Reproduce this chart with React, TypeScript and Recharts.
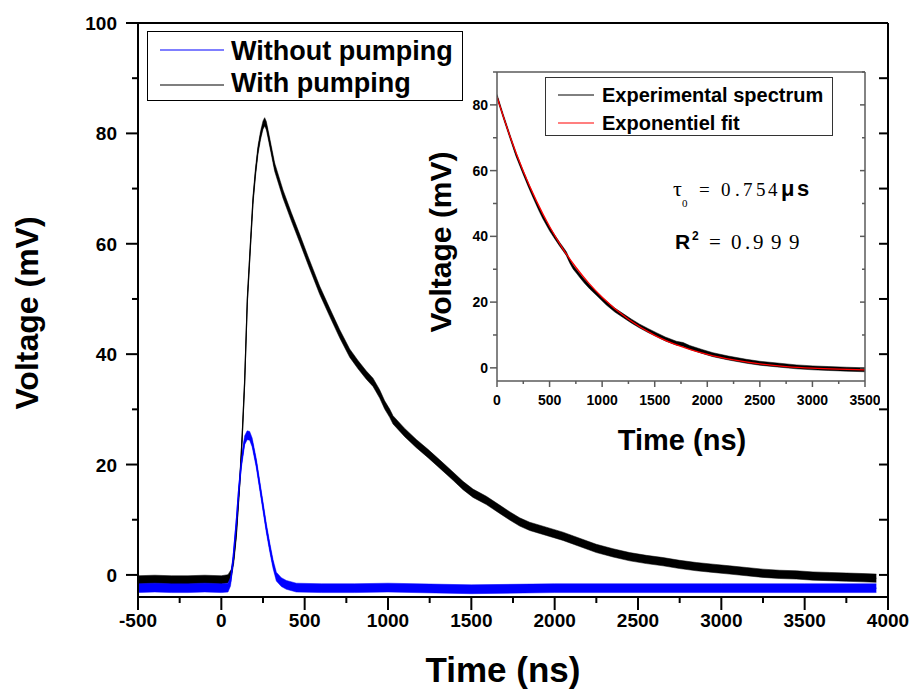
import React from 'react';
import { ComposedChart, Line, Area, XAxis, YAxis, Legend } from 'recharts';

// ---------------- data ----------------
// Main chart, "With pumping" (black)
const withTimes = [-500, -400, -300, -200, -100, 0, 40, 60, 75, 90, 110, 125, 140, 156, 175, 190, 205, 220, 235, 250, 260, 270, 285, 320, 370, 420, 470, 520, 590, 650, 710, 770, 820, 870, 910, 950, 980, 1010, 1030, 1100, 1170, 1240, 1310, 1390, 1450, 1510, 1590, 1670, 1730, 1790, 1850, 1950, 2050, 2150, 2250, 2350, 2450, 2550, 2650, 2750, 2850, 2950, 3050, 3150, 3250, 3350, 3450, 3550, 3650, 3750, 3850, 3930];
const withPumping = [-0.9, -0.8, -0.9, -0.9, -0.8, -0.9, -0.7, 0.3, 3, 7.5, 16.5, 25, 35, 49.8, 60, 67.9, 73, 77, 79.6, 81.5, 82.1, 81.4, 79.2, 73.9, 69, 64.9, 61, 57, 51.6, 47.6, 43.7, 40.2, 38.1, 36.2, 34.9, 32.8, 30.8, 29.3, 28.1, 25.8, 23.8, 22, 20.1, 17.9, 16.2, 14.8, 13.5, 11.9, 10.7, 9.6, 8.8, 7.9, 7.0, 5.9, 4.8, 4.0, 3.3, 2.8, 2.4, 1.9, 1.5, 1.2, 0.9, 0.6, 0.3, 0.1, 0, -0.2, -0.3, -0.4, -0.5, -0.6];
const withPumpingNoise = 0.75;

// Main chart, "Without pumping" (blue)
const withoutTimes = [-500, -400, -300, -200, -100, 0, 40, 55, 70, 90, 105, 120, 140, 155, 170, 185, 210, 230, 250, 270, 290, 310, 330, 360, 390, 450, 600, 800, 1000, 1500, 2000, 2500, 3000, 3500, 3930];
const withoutPumping = [-2.4, -2.3, -2.4, -2.4, -2.3, -2.4, -2.3, -1.2, 2.5, 9.4, 15.5, 20.2, 24.4, 25.3, 25.2, 24.0, 20.2, 16.3, 12.4, 8.5, 5.1, 2.0, -0.3, -1.3, -1.8, -2.3, -2.4, -2.4, -2.3, -2.6, -2.4, -2.4, -2.4, -2.4, -2.4];
const withoutPumpingNoise = 0.8;

// Inset, experimental spectrum (black)
const expTimes = [0, 60, 121, 180, 247, 300, 342, 400, 437, 501, 550, 596, 630, 660, 690, 723, 760, 787, 830, 882, 950, 1040, 1120, 1199, 1280, 1357, 1440, 1516, 1600, 1706, 1770, 1833, 1950, 2054, 2200, 2372, 2500, 2689, 2850, 3005, 3150, 3323, 3500];
const experimental = [82.6, 76.5, 70.6, 65, 59.6, 55.5, 52.4, 48.3, 45.9, 42.2, 39.8, 37.6, 36.1, 34.7, 32.6, 30.7, 29.2, 28.1, 26.4, 24.6, 22.5, 19.7, 17.6, 15.9, 14.2, 12.7, 11.3, 10.1, 8.8, 7.5, 7.1, 6.2, 5.0, 4.0, 3.0, 2.0, 1.4, 0.8, 0.3, 0, -0.2, -0.4, -0.6];
const experimentalNoise = 0.6;

// Inset, exponential fit (red)
const fitTimes = [0, 125, 250, 375, 500, 625, 750, 875, 1000, 1250, 1500, 1750, 2000, 2250, 2500, 2750, 3000, 3250, 3500];
const exponentialFit = [82.4, 70.3, 59.8, 50.8, 43.0, 36.3, 30.6, 25.7, 21.5, 14.8, 9.9, 6.5, 4.1, 2.4, 1.2, 0.4, -0.1, -0.4, -0.6];

// ticks
const mainXTicks = [-500, -250, 0, 250, 500, 750, 1000, 1250, 1500, 1750, 2000, 2250, 2500, 2750, 3000, 3250, 3500, 3750, 4000];
const mainYTicks = [0, 10, 20, 30, 40, 50, 60, 70, 80, 90, 100];
const insetXTicks = [0, 250, 500, 750, 1000, 1250, 1500, 1750, 2000, 2250, 2500, 2750, 3000, 3250, 3500];
const insetYTicks = [0, 10, 20, 30, 40, 50, 60, 70, 80, 90];

const mainXDomain = [-500, 4000];
const mainYDomain = [-4, 100];
const insetXDomain = [0, 3500];
const insetYDomain = [-4, 90];

// ---------------- derived tables ----------------
const withData = withTimes.map((t, i) => ({ t, v: withPumping[i], band: [withPumping[i] - withPumpingNoise, withPumping[i] + withPumpingNoise] }));
const withoutData = withoutTimes.map((t, i) => ({ t, v: withoutPumping[i], band: [withoutPumping[i] - withoutPumpingNoise, withoutPumping[i] + withoutPumpingNoise] }));
const expData = expTimes.map((t, i) => ({ t, v: experimental[i], band: [experimental[i] - experimentalNoise, experimental[i] + experimentalNoise] }));
const fitData = fitTimes.map((t, i) => ({ t, v: exponentialFit[i] }));

const SANS = 'Liberation Sans, Arial, Helvetica, sans-serif';
const SERIF = 'Liberation Serif, Times New Roman, serif';

type TickOpts = {
  side: 'bottom' | 'left' | 'top' | 'right';
  majorStep: number;
  majorLen: number;
  minorLen: number;
  label: boolean;
  labelOffset: number;
  baseShift: number;
  fontSize: number;
  stroke: string;
  strokeWidth: number;
};

const makeTick = (o: TickOpts) => (props: any) => {
  const { x, y, payload } = props;
  const v = payload.value;
  const major = Math.abs(v % o.majorStep) < 1e-9;
  const len = major ? o.majorLen : o.minorLen;
  let x2 = x, y2 = y;
  let tx = x, ty = y;
  let anchor: 'middle' | 'end' = 'middle';
  if (o.side === 'bottom') { y2 = y + len; ty = y + o.labelOffset; }
  if (o.side === 'top') { y2 = y + len; }
  if (o.side === 'left') { x2 = x - len; tx = x - o.labelOffset; ty = y + o.baseShift; anchor = 'end'; }
  if (o.side === 'right') { x2 = x - len; }
  return (
    <g>
      <line x1={x} y1={y} x2={x2} y2={y2} stroke={o.stroke} strokeWidth={o.strokeWidth} />
      {o.label && major ? (
        <text x={tx} y={ty} textAnchor={anchor} fontFamily={SANS} fontWeight="bold" fontSize={o.fontSize} fill="#000">
          {String(v)}
        </text>
      ) : null}
    </g>
  );
};

const mainBottomTick = makeTick({ side: 'bottom', majorStep: 500, majorLen: 13, minorLen: 6, label: true, labelOffset: 30, baseShift: 0, fontSize: 19, stroke: '#000', strokeWidth: 2 });
const mainLeftTick = makeTick({ side: 'left', majorStep: 20, majorLen: 12, minorLen: 6, label: true, labelOffset: 21, baseShift: 7, fontSize: 19, stroke: '#000', strokeWidth: 2 });
const mainTopTick = makeTick({ side: 'top', majorStep: 500, majorLen: 10, minorLen: 6, label: false, labelOffset: 0, baseShift: 0, fontSize: 19, stroke: '#000', strokeWidth: 2 });
const mainRightTick = makeTick({ side: 'right', majorStep: 20, majorLen: 9, minorLen: 9, label: false, labelOffset: 0, baseShift: 0, fontSize: 19, stroke: '#000', strokeWidth: 2 });

const INSET_AXIS = '#5a5a5a';
const insetBottomTick = makeTick({ side: 'bottom', majorStep: 500, majorLen: 6, minorLen: 3, label: true, labelOffset: 24, baseShift: 0, fontSize: 14, stroke: INSET_AXIS, strokeWidth: 1.5 });
const insetLeftTick = makeTick({ side: 'left', majorStep: 20, majorLen: 7, minorLen: 4, label: true, labelOffset: 9, baseShift: 5, fontSize: 14, stroke: INSET_AXIS, strokeWidth: 1.5 });
const insetTopTick = makeTick({ side: 'top', majorStep: 500, majorLen: 5, minorLen: 3, label: false, labelOffset: 0, baseShift: 0, fontSize: 14, stroke: INSET_AXIS, strokeWidth: 1.5 });
const insetRightTick = makeTick({ side: 'right', majorStep: 20, majorLen: 5, minorLen: 3, label: false, labelOffset: 0, baseShift: 0, fontSize: 14, stroke: INSET_AXIS, strokeWidth: 1.5 });

const MainLegend = () => (
  <div style={{ width: 316, height: 70, border: '1px solid #000', boxSizing: 'border-box' }}>
    <svg width={314} height={68} style={{ display: 'block' }}>
      <line x1={12} x2={76} y1={18} y2={18} stroke="#0000ff" strokeWidth={1.2} />
      <text x={83} y={28} fontFamily={SANS} fontWeight="bold" fontSize={27} fill="#000">Without pumping</text>
      <line x1={12} x2={76} y1={53} y2={53} stroke="#000" strokeWidth={1.2} />
      <text x={83} y={60} fontFamily={SANS} fontWeight="bold" fontSize={27} fill="#000">With pumping</text>
    </svg>
  </div>
);

const InsetLegend = () => (
  <div style={{ width: 288, height: 59, border: '1px solid #333', boxSizing: 'border-box' }}>
    <svg width={286} height={57} style={{ display: 'block' }}>
      <line x1={12} x2={48} y1={17} y2={17} stroke="#000" strokeWidth={1} />
      <text x={56} y={24} fontFamily={SANS} fontWeight="bold" fontSize={20} fill="#000">Experimental spectrum</text>
      <line x1={12} x2={48} y1={45} y2={45} stroke="#ff0000" strokeWidth={1.2} />
      <text x={56} y={52} fontFamily={SANS} fontWeight="bold" fontSize={20} fill="#000">Exponentiel fit</text>
    </svg>
  </div>
);

export default function App() {
  return (
    <div style={{ position: 'absolute', left: 0, top: 0, width: 919, height: 692, background: '#fff', overflow: 'hidden' }}>
      {/* main chart */}
      <div style={{ position: 'absolute', left: 0, top: 0 }}>
        <ComposedChart width={919} height={692} margin={{ top: 23, right: 31, bottom: 45, left: 60 }}>
          <XAxis xAxisId="b" dataKey="t" type="number" domain={mainXDomain} ticks={mainXTicks} interval={0} allowDataOverflow
            height={50} tickSize={0} tickMargin={0} tickLine={false} tick={mainBottomTick} axisLine={{ stroke: '#000', strokeWidth: 2 }} />
          <XAxis xAxisId="t" orientation="top" mirror type="number" domain={mainXDomain} ticks={mainXTicks} interval={0} allowDataOverflow
            height={10} tickSize={0} tickMargin={0} tickLine={false} tick={mainTopTick} axisLine={{ stroke: '#000', strokeWidth: 2 }} />
          <YAxis yAxisId="l" type="number" domain={mainYDomain} ticks={mainYTicks} interval={0} allowDataOverflow
            width={78} tickSize={0} tickMargin={0} tickLine={false} tick={mainLeftTick} axisLine={{ stroke: '#000', strokeWidth: 2 }} />
          <YAxis yAxisId="r" orientation="right" mirror type="number" domain={mainYDomain} ticks={mainYTicks} interval={0} allowDataOverflow
            width={10} tickSize={0} tickMargin={0} tickLine={false} tick={mainRightTick} axisLine={{ stroke: '#000', strokeWidth: 2 }} />
          <Area xAxisId="b" yAxisId="l" data={withData} dataKey="band" type="linear" stroke="#000" strokeWidth={0.5} fill="#000" fillOpacity={1}
            isAnimationActive={false} dot={false} activeDot={false} legendType="none" />
          <Line xAxisId="b" yAxisId="l" data={withData} dataKey="v" name="With pumping" type="linear" stroke="#000" strokeWidth={1.2}
            isAnimationActive={false} dot={false} activeDot={false} />
          <Area xAxisId="b" yAxisId="l" data={withoutData} dataKey="band" type="linear" stroke="#0000ff" strokeWidth={0.5} fill="#0000ff" fillOpacity={1}
            isAnimationActive={false} dot={false} activeDot={false} legendType="none" />
          <Line xAxisId="b" yAxisId="l" data={withoutData} dataKey="v" name="Without pumping" type="linear" stroke="#0000ff" strokeWidth={1.5}
            isAnimationActive={false} dot={false} activeDot={false} />
          <Legend layout="vertical" align="center" verticalAlign="middle" content={() => <MainLegend />}
            wrapperStyle={{ left: 147, top: 31, width: 316, height: 70 }} />
        </ComposedChart>
      </div>

      {/* inset chart */}
      <div style={{ position: 'absolute', left: 400, top: 40 }}>
        <ComposedChart width={480} height={420} margin={{ top: 32, right: 15, bottom: 49, left: 37 }}>
          <XAxis xAxisId="b" dataKey="t" type="number" domain={insetXDomain} ticks={insetXTicks} interval={0} allowDataOverflow
            height={30} tickSize={0} tickMargin={0} tickLine={false} tick={insetBottomTick} axisLine={{ stroke: INSET_AXIS, strokeWidth: 1.5 }} />
          <XAxis xAxisId="t" orientation="top" mirror type="number" domain={insetXDomain} ticks={insetXTicks} interval={0} allowDataOverflow
            height={10} tickSize={0} tickMargin={0} tickLine={false} tick={insetTopTick} axisLine={{ stroke: INSET_AXIS, strokeWidth: 1.5 }} />
          <YAxis yAxisId="l" type="number" domain={insetYDomain} ticks={insetYTicks} interval={0} allowDataOverflow
            width={60} tickSize={0} tickMargin={0} tickLine={false} tick={insetLeftTick} axisLine={{ stroke: INSET_AXIS, strokeWidth: 1.5 }} />
          <YAxis yAxisId="r" orientation="right" mirror type="number" domain={insetYDomain} ticks={insetYTicks} interval={0} allowDataOverflow
            width={10} tickSize={0} tickMargin={0} tickLine={false} tick={insetRightTick} axisLine={{ stroke: INSET_AXIS, strokeWidth: 1.5 }} />
          <Area xAxisId="b" yAxisId="l" data={expData} dataKey="band" type="linear" stroke="#000" strokeWidth={0.5} fill="#000" fillOpacity={1}
            isAnimationActive={false} dot={false} activeDot={false} legendType="none" />
          <Line xAxisId="b" yAxisId="l" data={expData} dataKey="v" name="Experimental spectrum" type="linear" stroke="#000" strokeWidth={1}
            isAnimationActive={false} dot={false} activeDot={false} />
          <Line xAxisId="b" yAxisId="l" data={fitData} dataKey="v" name="Exponentiel fit" type="monotone" stroke="#ff0000" strokeWidth={1.3}
            isAnimationActive={false} dot={false} activeDot={false} />
          <Legend layout="vertical" align="center" verticalAlign="middle" content={() => <InsetLegend />}
            wrapperStyle={{ left: 145, top: 37, width: 288, height: 59 }} />
        </ComposedChart>
      </div>

      {/* titles and annotations */}
      <svg width={919} height={692} style={{ position: 'absolute', left: 0, top: 0, pointerEvents: 'none' }}>
        <text x={503} y={682} textAnchor="middle" fontFamily={SANS} fontWeight="bold" fontSize={35} fill="#000">Time (ns)</text>
        <text x={38} y={313} textAnchor="middle" transform="rotate(-90 38 313)" fontFamily={SANS} fontWeight="bold" fontSize={32} fill="#000">Voltage (mV)</text>
        <text x={682} y={450} textAnchor="middle" fontFamily={SANS} fontWeight="bold" fontSize={29} fill="#000">Time (ns)</text>
        <text x={451} y={242} textAnchor="middle" transform="rotate(-90 451 242)" fontFamily={SANS} fontWeight="bold" fontSize={30} fill="#000">Voltage (mV)</text>

        <text fontFamily={SERIF} fontSize={22} fill="#000">
          <tspan x={673} y={196}>τ</tspan>
        </text>
        <text fontFamily={SERIF} fontSize={11} fill="#000">
          <tspan x={682} y={207}>0</tspan>
        </text>
        <text fontFamily={SERIF} fontSize={19} fill="#000">
          <tspan x={699} y={196}>=</tspan>
          <tspan x={721} y={196}>0</tspan>
          <tspan x={735} y={196}>.</tspan>
          <tspan x={743} y={196}>7</tspan>
          <tspan x={756} y={196}>5</tspan>
          <tspan x={768} y={196}>4</tspan>
        </text>
        <text fontFamily={SANS} fontWeight="bold" fontSize={22} fill="#000">
          <tspan x={781} y={196}>μ</tspan>
          <tspan x={797} y={196}>s</tspan>
        </text>

        <text fontFamily={SANS} fontWeight="bold" fontSize={21} fill="#000">
          <tspan x={675} y={249}>R</tspan>
        </text>
        <text fontFamily={SANS} fontWeight="bold" fontSize={12} fill="#000">
          <tspan x={692} y={240}>2</tspan>
        </text>
        <text fontFamily={SERIF} fontSize={21} fill="#000">
          <tspan x={709} y={249}>=</tspan>
          <tspan x={731} y={249}>0</tspan>
          <tspan x={745} y={249}>.</tspan>
          <tspan x={753} y={249}>9</tspan>
          <tspan x={771} y={249}>9</tspan>
          <tspan x={789} y={249}>9</tspan>
        </text>
      </svg>
    </div>
  );
}
